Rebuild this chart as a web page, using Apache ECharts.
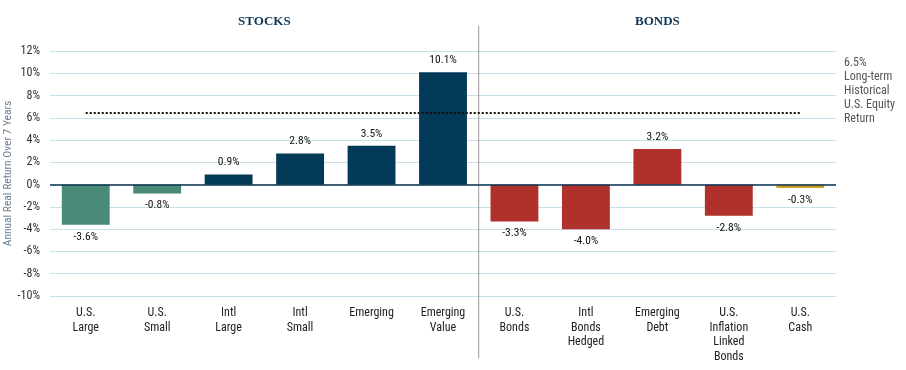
<!DOCTYPE html>
<html>
<head>
<meta charset="utf-8">
<script src="https://cdn.jsdelivr.net/npm/echarts@6/dist/echarts.min.js"></script>
<style>html,body{margin:0;padding:0;background:#fff}#c{width:906px;height:370px}</style>
</head>
<body>
<div id="c"></div>
<script>
const categories = ['U.S.\nLarge','U.S.\nSmall','Intl\nLarge','Intl\nSmall','Emerging','Emerging\nValue','U.S.\nBonds','Intl\nBonds\nHedged','Emerging\nDebt','U.S.\nInflation\nLinked\nBonds','U.S.\nCash'];
const values = [-3.6, -0.8, 0.9, 2.8, 3.5, 10.1, -3.3, -4.0, 3.2, -2.8, -0.3];
const groups = ['stocks','stocks','stocks','stocks','stocks','stocks','bonds','bonds','bonds','bonds','cash'];
const groupTitles = ['STOCKS','BONDS'];
const benchmark = 6.5;
const benchmarkNote = ['6.5%','Long-term','Historical','U.S. Equity','Return'];
const yMin = -10, yMax = 12, yStep = 2;

const FONT = '"Liberation Sans Narrow", "Roboto Condensed", Roboto, sans-serif';
function barColor(i){
  const g = groups[i], v = values[i];
  if (g === 'stocks') return v < 0 ? '#4a8a78' : '#033a57';
  if (g === 'bonds') return '#b0302b';
  return '#c9a227';
}

const chart = echarts.init(document.getElementById('c'));
chart.setOption({
  animation: false,
  grid: { left: 50, right: 70, top: 51, bottom: 74, containLabel: false, outerBoundsMode: 'none' },
  xAxis: {
    type: 'category',
    data: categories,
    axisLine: { show: false, onZero: false },
    axisTick: { show: false },
    axisLabel: { color: '#222', fontFamily: FONT, fontSize: 12, lineHeight: 14.5, margin: 10, interval: 0, verticalAlign: 'top' }
  },
  yAxis: {
    type: 'value',
    min: yMin, max: yMax, interval: yStep,
    name: 'Annual Real Return Over 7 Years',
    nameLocation: 'middle',
    nameGap: 36,
    nameMoveOverlap: false,
    nameTextStyle: { color: '#6e8193', fontFamily: FONT, fontSize: 11.5 },
    axisLine: { show: false },
    axisTick: { show: false },
    axisLabel: { color: '#333', fontFamily: FONT, fontSize: 12, formatter: '{value}%', margin: 10 },
    splitLine: { lineStyle: { color: '#c9dfe9', width: 1 } }
  },
  series: [{
    type: 'bar',
    barWidth: '67%',
    data: values.map((v, i) => ({
      value: v,
      itemStyle: { color: barColor(i) },
      label: { position: v < 0 ? 'bottom' : 'top' }
    })),
    label: {
      show: true, distance: 6, color: '#111', fontFamily: FONT, fontSize: 11.5,
      formatter: p => p.value.toFixed(1) + '%'
    },
    markLine: {
      silent: true, symbol: 'none', label: { show: false },
      data: [
        { yAxis: 0, lineStyle: { color: '#0b3553', width: 1.5, type: 'solid' } },
        [
          { coord: [0, benchmark], lineStyle: { color: '#111', width: 2, type: [2, 2] } },
          { coord: [categories.length - 1, benchmark] }
        ]
      ]
    }
  }]
});

function px(idx){ return chart.convertToPixel({ xAxisIndex: 0 }, idx); }
const firstBond = groups.indexOf('bonds');
const divX = (px(firstBond - 1) + px(firstBond)) / 2;
const stocksX = (px(0) + px(firstBond - 1)) / 2;
const bondsX = (px(firstBond) + px(categories.length - 1)) / 2;
const y12 = chart.convertToPixel({ yAxisIndex: 0 }, yMax);
const yBottom = chart.convertToPixel({ yAxisIndex: 0 }, yMin);
const yBench = chart.convertToPixel({ yAxisIndex: 0 }, benchmark);
const rightEdge = px(categories.length - 1) + (px(1) - px(0)) / 2;

chart.setOption({
  graphic: [
    { type: 'line', shape: { x1: divX, y1: y12 - 25, x2: divX, y2: yBottom + 62 }, style: { stroke: '#9a9a9a', lineWidth: 1 }, silent: true },
    { type: 'text', x: stocksX, y: y12 - 29, style: { text: groupTitles[0], fill: '#0d3657', font: 'bold 13px "Liberation Serif", "DejaVu Serif", serif', textAlign: 'center', textVerticalAlign: 'middle' } },
    { type: 'text', x: bondsX, y: y12 - 29, style: { text: groupTitles[1], fill: '#0d3657', font: 'bold 13px "Liberation Serif", "DejaVu Serif", serif', textAlign: 'center', textVerticalAlign: 'middle' } },
    { type: 'text', x: rightEdge + 8, y: yBench - 56, style: { text: benchmarkNote.join('\n'), fill: '#555', font: '12px ' + FONT, lineHeight: 14, textAlign: 'left', textVerticalAlign: 'top' } }
  ]
});
</script>
</body>
</html>
